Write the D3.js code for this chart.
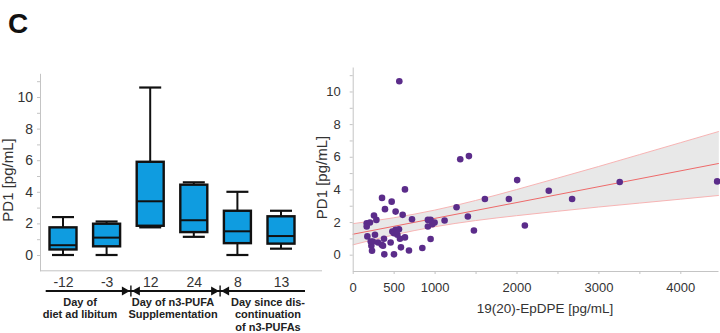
<!DOCTYPE html>
<html>
<head>
<meta charset="utf-8">
<script src="https://cdn.jsdelivr.net/npm/d3@7"></script>
<style>
  html, body { margin: 0; padding: 0; background: #fff; }
  svg { display: block; font-family: "Liberation Sans", Arial, sans-serif; }
</style>
</head>
<body>
<svg id="chart" width="720" height="333"></svg>
<script>
// ---------- Data: box plot (panel left) ----------
const categories = ["-12", "-3", "12", "24", "8", "13"];
const boxMin    = [0.00, 0.00, 1.75, 1.15, 0.00, 0.40];
const boxQ1     = [0.35, 0.55, 1.85, 1.45, 0.75, 0.72];
const boxMedian = [0.62, 1.10, 3.40, 2.20, 1.50, 1.20];
const boxQ3     = [1.75, 1.98, 5.90, 4.45, 2.80, 2.45];
const boxMax    = [2.40, 2.12, 10.60, 4.60, 4.00, 2.80];

const groupLabels = [
  ["Day of", "diet ad libitum"],
  ["Day of n3-PUFA", "Supplementation"],
  ["Day since dis-", "continuation", "of n3-PUFAs"]
];

// ---------- Data: scatter (panel right) ----------
const scatterX = [569, 638, 1313, 1419, 2008, 2394, 3260, 4450,
  1614, 1907, 2679, 1268, 1406, 1122, 1480, 2102,
  358, 476, 394, 524, 610, 260, 289, 171, 211, 171,
  724, 918, 951, 1000, 918, 972,
  484, 524, 565, 504, 545, 272, 179, 382, 577, 638,
  463, 220, 309, 354, 951, 228, 236, 589, 687, 850, 386, 504,
  245, 370, 535];
const scatterY = [10.63, 4.00, 5.85, 6.04, 4.57, 3.92, 4.45, 4.49,
  3.41, 3.41, 3.41, 2.91, 2.34, 2.09, 1.48, 1.79,
  3.48, 3.25, 2.79, 2.64, 2.44, 2.40, 2.13, 1.93, 1.97, 1.73,
  2.17, 2.13, 2.13, 1.97, 1.73, 1.87,
  1.42, 1.52, 1.56, 1.32, 1.22, 1.22, 1.12, 0.98, 0.98, 1.06,
  0.75, 0.81, 0.75, 0.61, 0.96, 0.55, 0.24, 0.45, 0.26, 0.41, 0.02, 0.02,
  0.81, 0.55, 1.45];

// regression fit and confidence band
const fitX    = [0, 4470];
const fitY    = [1.25, 5.59];
const ciX     = [0, 500, 1000, 1500, 2000, 2500, 3000, 3500, 4000, 4470];
const ciLower = [0.60, 1.21, 1.71, 2.09, 2.39, 2.66, 2.92, 3.16, 3.40, 3.63];
const ciUpper = [1.90, 2.26, 2.73, 3.32, 3.99, 4.69, 5.40, 6.13, 6.86, 7.55];

const yTicks = [0, 1, 2, 3, 4, 5, 6, 7, 8, 9, 10, 11];
const xTicksRight = [0, 500, 1000, 1500, 2000, 2500, 3000, 3500, 4000];
const xTickLabelsRight = [0, 500, 1000, 2000, 3000, 4000];

// ---------- Drawing ----------
const svg = d3.select("#chart");
const axisGray = "#c4c4c4";
const textCol = "#333";

svg.append("text").attr("x", 8).attr("y", 33)
  .attr("font-size", 28).attr("font-weight", "bold").attr("fill", "#111").text("C");

// ----- Left panel -----
const xL = d3.scalePoint().domain(categories).range([63, 281]);
const yL = d3.scaleLinear().domain([-1, 11.5]).range([270.8, 73.3]);
const left = svg.append("g");

const yAxisL = left.append("g").attr("transform", "translate(40,0)")
  .call(d3.axisLeft(yL).tickValues(yTicks).tickSize(3).tickSizeOuter(0).tickPadding(4)
    .tickFormat(d => d % 2 === 0 ? d : ""));
yAxisL.select(".domain").attr("stroke", axisGray);
yAxisL.selectAll(".tick line").attr("stroke", axisGray);
yAxisL.selectAll(".tick text").attr("fill", textCol).attr("font-size", 14)
  .attr("font-family", "Liberation Sans, Arial, sans-serif");

const xAxisL = left.append("g").attr("transform", `translate(0,${yL(-1)})`)
  .call(d3.axisBottom(xL).tickSize(0).tickPadding(6));
xAxisL.select(".domain").remove();
xAxisL.selectAll(".tick text").attr("fill", textCol).attr("font-size", 14)
  .attr("font-family", "Liberation Sans, Arial, sans-serif");
left.append("line").attr("x1", 40).attr("x2", 322)
  .attr("y1", yL(-1)).attr("y2", yL(-1)).attr("stroke", axisGray);

left.append("text")
  .attr("transform", `translate(12.7,180) rotate(-90)`)
  .attr("text-anchor", "middle").attr("font-size", 15).attr("fill", textCol)
  .text("PD1 [pg/mL]");

const bw = 27, capW = 22;
const boxes = left.selectAll("g.box").data(categories).join("g").attr("class", "box");
boxes.append("line")
  .attr("x1", d => xL(d)).attr("x2", d => xL(d))
  .attr("y1", (d, i) => yL(boxMax[i])).attr("y2", (d, i) => yL(boxQ3[i]))
  .attr("stroke", "#111").attr("stroke-width", 2);
boxes.append("line")
  .attr("x1", d => xL(d)).attr("x2", d => xL(d))
  .attr("y1", (d, i) => yL(boxQ1[i])).attr("y2", (d, i) => yL(boxMin[i]))
  .attr("stroke", "#111").attr("stroke-width", 2);
boxes.append("line")
  .attr("x1", d => xL(d) - capW / 2).attr("x2", d => xL(d) + capW / 2)
  .attr("y1", (d, i) => yL(boxMax[i])).attr("y2", (d, i) => yL(boxMax[i]))
  .attr("stroke", "#111").attr("stroke-width", 2.2);
boxes.append("line")
  .attr("x1", d => xL(d) - capW / 2).attr("x2", d => xL(d) + capW / 2)
  .attr("y1", (d, i) => yL(boxMin[i])).attr("y2", (d, i) => yL(boxMin[i]))
  .attr("stroke", "#111").attr("stroke-width", 2.2);
boxes.append("rect")
  .attr("x", d => xL(d) - bw / 2).attr("width", bw)
  .attr("y", (d, i) => yL(boxQ3[i]))
  .attr("height", (d, i) => yL(boxQ1[i]) - yL(boxQ3[i]))
  .attr("fill", "#0f9ce0").attr("stroke", "#111").attr("stroke-width", 2.4);
boxes.append("line")
  .attr("x1", d => xL(d) - bw / 2).attr("x2", d => xL(d) + bw / 2)
  .attr("y1", (d, i) => yL(boxMedian[i])).attr("y2", (d, i) => yL(boxMedian[i]))
  .attr("stroke", "#111").attr("stroke-width", 2);

// timeline
const tlY = 291;
left.append("line").attr("x1", 45.7).attr("x2", 305).attr("y1", tlY).attr("y2", tlY)
  .attr("stroke", "#111").attr("stroke-width", 2);
const markerX = [
  (xL(categories[1]) + xL(categories[2])) / 2 + 2.5,
  (xL(categories[3]) + xL(categories[4])) / 2 + 4.5
];
markerX.forEach(cx => {
  left.append("path").attr("d", `M${cx - 9},${tlY - 4.5}L${cx - 1},${tlY}L${cx - 9},${tlY + 4.5}Z`).attr("fill", "#111");
  left.append("path").attr("d", `M${cx + 9},${tlY - 4.5}L${cx + 1},${tlY}L${cx + 9},${tlY + 4.5}Z`).attr("fill", "#111");
  left.append("line").attr("x1", cx).attr("x2", cx).attr("y1", tlY - 5.5).attr("y2", tlY + 5.5)
    .attr("stroke", "#111").attr("stroke-width", 1.4);
});
const groupCenters = [80, 173, 268];
groupLabels.forEach((lines, gi) => {
  const t = left.append("text").attr("text-anchor", "middle").attr("font-size", 11)
    .attr("font-weight", "bold").attr("fill", "#222");
  lines.forEach((ln, li) => {
    t.append("tspan").attr("x", groupCenters[gi]).attr("y", 305.5 + li * 12.6).text(ln);
  });
});

// ----- Right panel -----
const xR = d3.scaleLinear().domain([0, 4460]).range([352.7, 718]);
const yR = d3.scaleLinear().domain([-1, 11.5]).range([271, 67]);
const right = svg.append("g");

const area = d3.area().curve(d3.curveMonotoneX)
  .x((d, i) => xR(ciX[i])).y0((d, i) => yR(ciLower[i])).y1((d, i) => yR(ciUpper[i]));
right.append("path").datum(ciX).attr("d", area).attr("fill", "#e8e8e8");
const lineLo = d3.line().curve(d3.curveMonotoneX).x((d, i) => xR(ciX[i])).y((d, i) => yR(ciLower[i]));
const lineHi = d3.line().curve(d3.curveMonotoneX).x((d, i) => xR(ciX[i])).y((d, i) => yR(ciUpper[i]));
right.append("path").datum(ciX).attr("d", lineLo).attr("fill", "none").attr("stroke", "#f7b4b4").attr("stroke-width", 1);
right.append("path").datum(ciX).attr("d", lineHi).attr("fill", "none").attr("stroke", "#f7b4b4").attr("stroke-width", 1);
right.append("path").datum(fitX)
  .attr("d", d3.line().x((d, i) => xR(fitX[i])).y((d, i) => yR(fitY[i])))
  .attr("fill", "none").attr("stroke", "#ee6a6a").attr("stroke-width", 1);

const yAxisR = right.append("g").attr("transform", `translate(${xR(0)},0)`)
  .call(d3.axisLeft(yR).tickValues(yTicks).tickSize(3).tickSizeOuter(0).tickPadding(9)
    .tickFormat(d => d % 2 === 0 ? d : ""));
yAxisR.select(".domain").attr("stroke", axisGray);
yAxisR.selectAll(".tick line").attr("stroke", axisGray);
yAxisR.selectAll(".tick text").attr("fill", textCol).attr("font-size", 13)
  .attr("font-family", "Liberation Sans, Arial, sans-serif");

const xAxisR = right.append("g").attr("transform", `translate(0,${yR(-1)})`)
  .call(d3.axisBottom(xR).tickValues(xTicksRight).tickSize(3).tickSizeOuter(0).tickPadding(9)
    .tickFormat(d => xTickLabelsRight.includes(d) ? d : ""));
xAxisR.select(".domain").attr("stroke", axisGray);
xAxisR.selectAll(".tick line").attr("stroke", axisGray);
xAxisR.selectAll(".tick text").attr("fill", textCol).attr("font-size", 13)
  .attr("font-family", "Liberation Sans, Arial, sans-serif");

right.append("text")
  .attr("transform", `translate(327,177.5) rotate(-90)`)
  .attr("text-anchor", "middle").attr("font-size", 15).attr("fill", textCol)
  .text("PD1 [pg/mL]");
right.append("text").attr("x", 545).attr("y", 313)
  .attr("text-anchor", "middle").attr("font-size", 13.5).attr("fill", textCol)
  .text("19(20)-EpDPE [pg/mL]");

right.selectAll("circle.pt").data(scatterX).join("circle").attr("class", "pt")
  .attr("cx", (d, i) => xR(scatterX[i]))
  .attr("cy", (d, i) => yR(scatterY[i]))
  .attr("r", 3.3).attr("fill", "#5b2c8a");
</script>
</body>
</html>
